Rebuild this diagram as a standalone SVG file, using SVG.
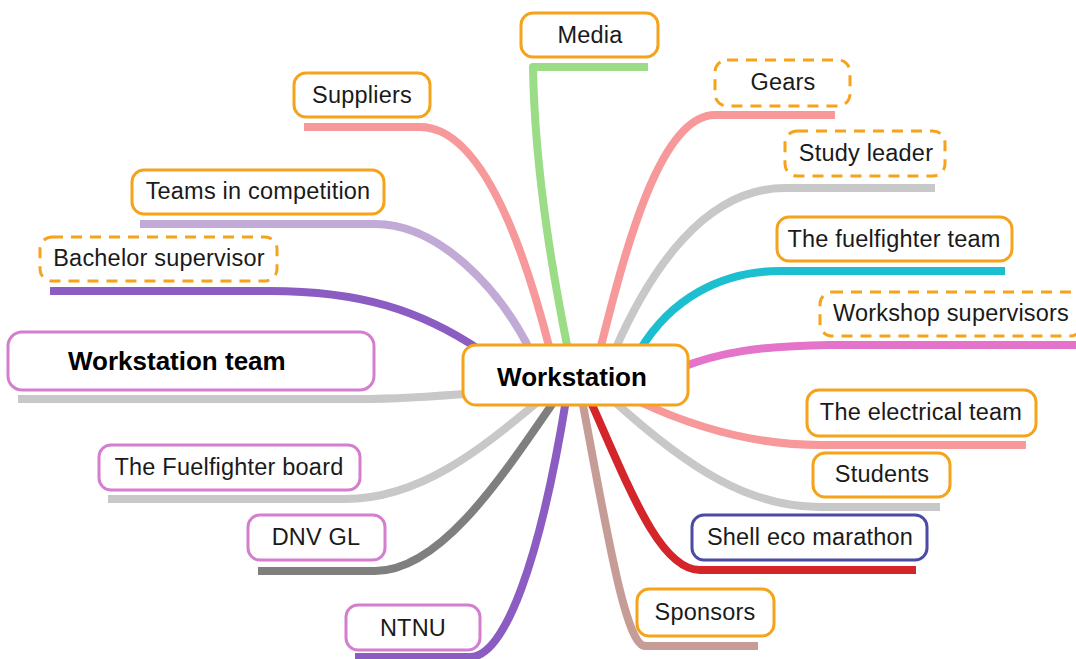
<svg xmlns="http://www.w3.org/2000/svg" width="1076" height="659" viewBox="0 0 1076 659">
<style>
.box{fill:#fff;stroke-width:3}
.o{stroke:#f5a31a}
.m{stroke:#d47fce}
.b{stroke:#4b4ba6}
.d{stroke-dasharray:11 8}
.t{font-family:"Liberation Sans",Arial,sans-serif;font-size:23.5px;fill:#1a1a1a;text-anchor:middle;letter-spacing:0.2px}
.tb{font-family:"Liberation Sans",Arial,sans-serif;font-size:26px;font-weight:bold;fill:#000;text-anchor:middle}
.c{fill:none;stroke-width:8;stroke-linecap:butt;stroke-linejoin:round}
</style>
<rect width="1076" height="659" fill="#fff"/>
<g id="connectors">
<path class="c" stroke="#f7999a" d="M304 127 H420 C480 127 522 240 550 350"/>
<path class="c" stroke="#9bdc86" d="M648 67 H533 C535 180 556 290 568 350"/>
<path class="c" stroke="#f7999a" d="M835 115 H715 C660 115 625 250 600 350"/>
<path class="c" stroke="#c8c8c8" stroke-width="11" d="M935 188 H785 C705 188 650 270 615 350"/>
<path class="c" stroke="#1cbfcf" d="M1005 271 H780 C720 271 670 300 640 350"/>
<path class="c" stroke="#e374c9" d="M1076 345 H830 C760 346 720 352 680 368"/>
<path class="c" stroke="#f7999a" d="M1026 445 H820 C760 445 700 430 640 402"/>
<path class="c" stroke="#c8c8c8" d="M940 507 H820 C750 507 690 470 615 402"/>
<path class="c" stroke="#d4252a" d="M916 570 H700 C660 570 630 490 590 400"/>
<path class="c" stroke="#c59d96" d="M758 646 H645 C625 646 605 520 582 400"/>
<path class="c" stroke="#8b5cc2" d="M355 657 H470 C505 657 540 560 566 400"/>
<path class="c" stroke="#7f7f7f" d="M258 571 H375 C440 571 500 480 555 400"/>
<path class="c" stroke="#c8c8c8" d="M108 499 H345 C420 499 480 450 540 400"/>
<path class="c" stroke="#c8c8c8" d="M18 399 H360 C400 399 440 396 475 393"/>
<path class="c" stroke="#8b5cc2" d="M50 291 H270 C360 291 420 310 480 350"/>
<path class="c" stroke="#c1aad6" d="M140 224 H375 C440 224 500 290 530 350"/>
</g>
<g id="workstation"><rect class="box o" x="463" y="345" width="225" height="60" rx="13"/><text class="tb" x="572" y="386">Workstation</text></g>
<g id="media"><rect class="box o" x="521" y="13" width="137" height="44" rx="12"/><text class="t" x="590" y="43">Media</text></g>
<g id="suppliers"><rect class="box o" x="294" y="73" width="136" height="44" rx="12"/><text class="t" x="362" y="103">Suppliers</text></g>
<g id="teams"><rect class="box o" x="132" y="170" width="252" height="44" rx="12"/><text class="t" x="258" y="199">Teams in competition</text></g>
<g id="bachelor"><rect class="box o d" x="40" y="237" width="237" height="44" rx="12"/><text class="t" x="159" y="266">Bachelor supervisor</text></g>
<g id="wsteam"><rect class="box m" x="8" y="332" width="366" height="58" rx="14"/><text class="tb" x="68" y="370" style="text-anchor:start">Workstation team</text></g>
<g id="board"><rect class="box m" x="99" y="445" width="261" height="45" rx="12"/><text class="t" x="229" y="475">The Fuelfighter board</text></g>
<g id="dnv"><rect class="box m" x="248" y="515" width="137" height="45" rx="12"/><text class="t" x="316" y="545">DNV GL</text></g>
<g id="ntnu"><rect class="box m" x="346" y="605" width="134" height="45" rx="12"/><text class="t" x="413" y="636">NTNU</text></g>
<g id="gears"><rect class="box o d" x="715" y="60" width="135" height="46" rx="12"/><text class="t" x="783" y="90">Gears</text></g>
<g id="study"><rect class="box o d" x="785" y="131" width="160" height="45" rx="12"/><text class="t" x="866" y="161">Study leader</text></g>
<g id="ffteam"><rect class="box o" x="777" y="217" width="235" height="44" rx="12"/><text class="t" x="894" y="247">The fuelfighter team</text></g>
<g id="workshop"><rect class="box o d" x="820" y="292" width="262" height="44" rx="12"/><text class="t" x="951" y="321">Workshop supervisors</text></g>
<g id="electrical"><rect class="box o" x="807" y="390" width="229" height="46" rx="12"/><text class="t" x="921" y="420">The electrical team</text></g>
<g id="students"><rect class="box o" x="813" y="453" width="137" height="44" rx="12"/><text class="t" x="882" y="482">Students</text></g>
<g id="shell"><rect class="box b" x="692" y="515" width="235" height="45" rx="12"/><text class="t" x="810" y="545">Shell eco marathon</text></g>
<g id="sponsors"><rect class="box o" x="637" y="589" width="137" height="47" rx="12"/><text class="t" x="705" y="620">Sponsors</text></g>
</svg>
